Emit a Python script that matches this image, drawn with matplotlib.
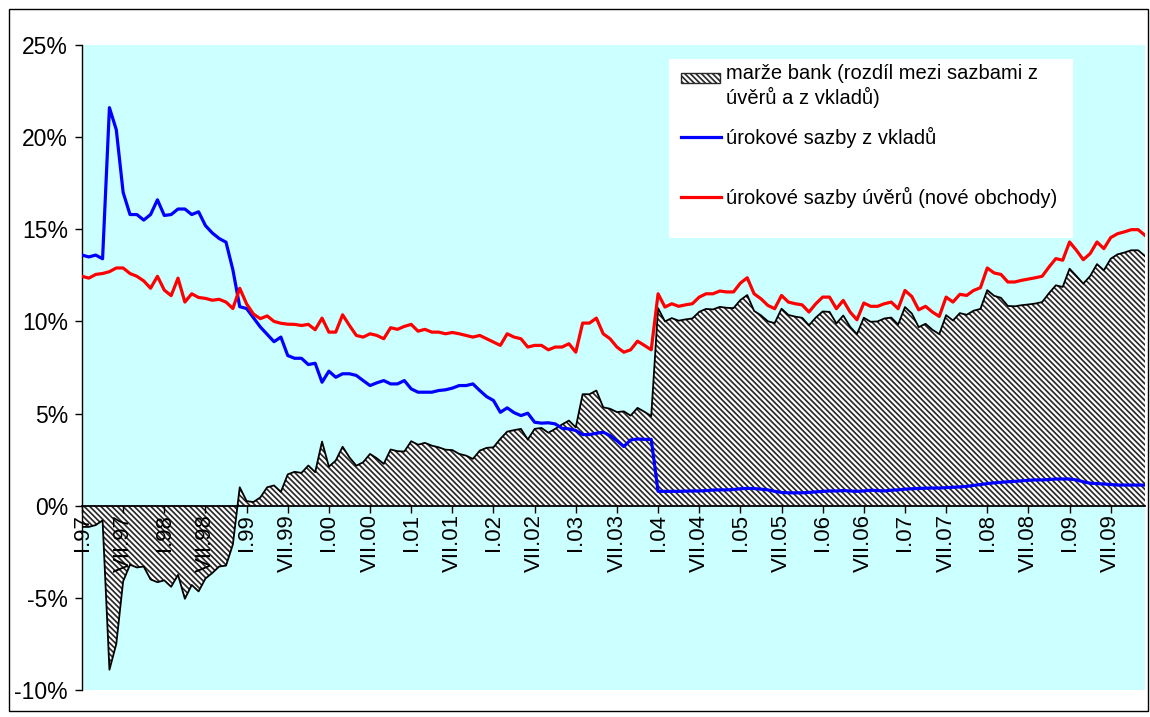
import numpy as np
import matplotlib.pyplot as plt
from matplotlib.patches import Rectangle
from matplotlib.lines import Line2D

plt.rcParams['font.family'] = ['Liberation Sans', 'DejaVu Sans']
plt.rcParams['hatch.linewidth'] = 1.25

# monthly rates in %, I.1997 - XII.2009
deposits = [
    13.6, 13.5, 13.6, 13.4, 21.6, 20.4, 17.0, 15.8, 15.8, 15.5, 15.8, 16.6,
    15.75, 15.8, 16.1, 16.1, 15.8, 15.95, 15.2, 14.8, 14.5, 14.3, 12.8, 10.8,
    10.7, 10.2, 9.7, 9.3, 8.9, 9.15, 8.15, 8.0, 8.0, 7.66, 7.73, 6.70,
    7.30, 6.97, 7.16, 7.16, 7.07, 6.79, 6.52, 6.67, 6.79, 6.61, 6.61, 6.79,
    6.34, 6.16, 6.16, 6.16, 6.25, 6.29, 6.38, 6.52, 6.52, 6.61, 6.25, 5.92,
    5.71, 5.07, 5.31, 5.05, 4.89, 5.02, 4.53, 4.48, 4.50, 4.44, 4.20, 4.17,
    4.08, 3.86, 3.86, 3.93, 3.99, 3.80, 3.53, 3.21, 3.57, 3.62, 3.60, 3.60,
    0.78, 0.78, 0.78, 0.78, 0.79, 0.80, 0.80, 0.82, 0.85, 0.86, 0.86, 0.88,
    0.92, 0.94, 0.93, 0.90, 0.86, 0.78, 0.72, 0.70, 0.70, 0.70, 0.72, 0.75,
    0.78, 0.80, 0.80, 0.82, 0.80, 0.78, 0.80, 0.84, 0.82, 0.80, 0.84, 0.86,
    0.90, 0.92, 0.94, 0.95, 0.96, 0.96, 0.98, 1.00, 1.02, 1.05, 1.10, 1.15,
    1.20, 1.24, 1.27, 1.30, 1.32, 1.35, 1.38, 1.40, 1.40, 1.42, 1.45, 1.45,
    1.45, 1.40, 1.30, 1.22, 1.20, 1.18, 1.15, 1.12, 1.12, 1.12, 1.12, 1.12,
]

loans = [
    12.45, 12.35, 12.55, 12.6, 12.7, 12.9, 12.9, 12.6, 12.45, 12.2, 11.8, 12.45,
    11.7, 11.4, 12.35, 11.05, 11.5, 11.3, 11.25, 11.15, 11.2, 11.05, 10.7, 11.8,
    10.95, 10.4, 10.15, 10.3, 10.0, 9.9, 9.85, 9.84, 9.78, 9.84, 9.55, 10.18,
    9.42, 9.42, 10.36, 9.78, 9.24, 9.15, 9.33, 9.24, 9.06, 9.66, 9.57, 9.73,
    9.84, 9.47, 9.57, 9.42, 9.42, 9.33, 9.40, 9.33, 9.24, 9.15, 9.24, 9.06,
    8.88, 8.70, 9.33, 9.15, 9.06, 8.61, 8.70, 8.70, 8.46, 8.61, 8.61, 8.79,
    8.33, 9.91, 9.91, 10.18, 9.33, 9.06, 8.61, 8.33, 8.46, 8.93, 8.70, 8.46,
    11.5, 10.78, 10.96, 10.82, 10.9, 10.96, 11.32, 11.5, 11.5, 11.65, 11.6, 11.6,
    12.08, 12.37, 11.5, 11.23, 10.87, 10.69, 11.41, 11.05, 10.96, 10.9, 10.51, 10.96,
    11.32, 11.32, 10.69, 11.14, 10.51, 10.09, 11.0, 10.82, 10.82, 10.96, 11.05, 10.69,
    11.68, 11.35, 10.63, 10.82, 10.51, 10.27, 11.32, 11.05, 11.47, 11.41, 11.68, 11.83,
    12.9, 12.63, 12.55, 12.14, 12.14, 12.23, 12.3, 12.37, 12.45, 12.95, 13.41, 13.32,
    14.31, 13.86, 13.35, 13.68, 14.31, 13.95, 14.55, 14.76, 14.86, 14.98, 14.98, 14.67,
]

years = ['97', '98', '99', '00', '01', '02', '03', '04', '05', '06', '07', '08', '09']
half_years = ['I', 'VII']
y_ticks = [-10, -5, 0, 5, 10, 15, 20, 25]

label_margin = 'marže bank (rozdíl mezi sazbami z\núvěrů a z vkladů)'
label_deposits = 'úrokové sazby z vkladů'
label_loans = 'úrokové sazby úvěrů (nové obchody)'

HATCH = '\\' * 6
HATCH_COLOR = '#2a2a2a'

W, H = 1150, 717
fig = plt.figure(figsize=(W / 100, H / 100), dpi=100)


def fx(px):
    return px / W


def fy(py):
    return 1 - py / H


# frame around the whole chart
fig.add_artist(Rectangle((fx(9), fy(711)), fx(1148) - fx(9), fy(9) - fy(711),
                         transform=fig.transFigure, fill=False,
                         edgecolor='black', linewidth=1.0))

ax = fig.add_axes([fx(82), fy(690), fx(1145) - fx(82), fy(45) - fy(690)])
ax.set_facecolor('#CCFFFF')

x = np.arange(len(deposits))
margin = np.array(loans) - np.array(deposits)

ax.fill_between(x, 0, margin, facecolor='white', edgecolor=HATCH_COLOR,
                hatch=HATCH, linewidth=0, zorder=1)
ax.plot(x, margin, color='black', linewidth=1.3, zorder=2)
ax.plot(x, deposits, color='#0000FF', linewidth=2.3, zorder=3)
ax.plot(x, loans, color='#FF0000', linewidth=2.3, zorder=3)

ax.set_xlim(0, len(x) - 1)
ax.set_ylim(-10, 25)

# axes: y on the left, category axis crossing at 0 %
for side in ('top', 'right'):
    ax.spines[side].set_visible(False)
ax.spines['bottom'].set_position(('data', 0))
ax.spines['bottom'].set_linewidth(1.3)
ax.spines['left'].set_linewidth(1.0)

ax.set_yticks(y_ticks)
ax.set_yticklabels([f'{v}%' for v in y_ticks])
ax.tick_params(axis='y', direction='out', length=5, width=1, pad=5, labelsize=16.5)

tick_labels = [f'{h}.{y}' for y in years for h in half_years]
ax.set_xticks(np.arange(len(tick_labels)) * 6)
ax.set_xticklabels(tick_labels, rotation=90, va='top', ha='center')
ax.tick_params(axis='x', direction='out', length=5, width=1, pad=1, labelsize=16)

# legend box drawn by hand
fig.add_artist(Rectangle((fx(669), fy(238)), fx(1073) - fx(669), fy(59) - fy(238),
                         transform=fig.transFigure, facecolor='white',
                         edgecolor='none', zorder=10))
fig.add_artist(Rectangle((fx(681), fy(83)), fx(720) - fx(681), fy(73) - fy(83),
                         transform=fig.transFigure, facecolor='white',
                         edgecolor=HATCH_COLOR, hatch=HATCH, linewidth=1.0,
                         zorder=11))
fig.add_artist(Line2D([fx(681), fx(721)], [fy(137), fy(137)],
                      transform=fig.transFigure, color='#0000FF',
                      linewidth=2.3, zorder=11))
fig.add_artist(Line2D([fx(681), fx(721)], [fy(197), fy(197)],
                      transform=fig.transFigure, color='#FF0000',
                      linewidth=2.3, zorder=11))

legend_font = 14.5
fig.text(fx(726), fy(64), label_margin, ha='left', va='top',
         fontsize=legend_font, linespacing=1.25, zorder=12)
fig.text(fx(726), fy(137), label_deposits, ha='left', va='center',
         fontsize=legend_font, zorder=12)
fig.text(fx(726), fy(197), label_loans, ha='left', va='center',
         fontsize=legend_font, zorder=12)

fig.savefig('out.png', dpi=100, facecolor='white')
